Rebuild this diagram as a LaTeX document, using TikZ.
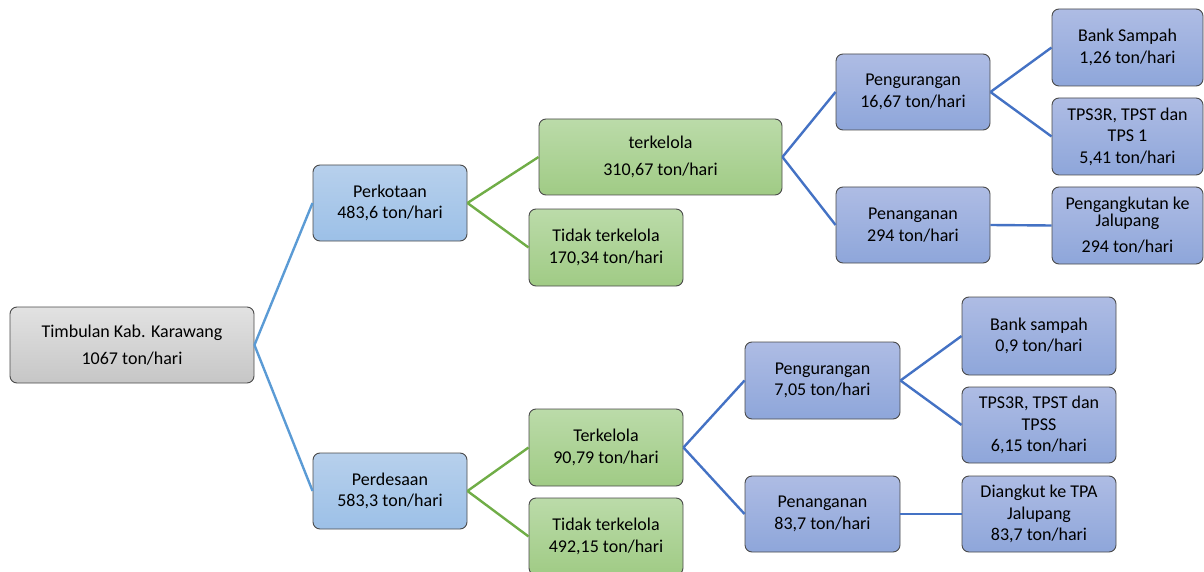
\documentclass[tikz,border=0pt]{standalone}
\usepackage{fontspec}
\setmainfont{Carlito}
\definecolor{bordc}{HTML}{4A4A4A}
\definecolor{grayT}{HTML}{E2E2E2}
\definecolor{grayB}{HTML}{C6C6C6}
\definecolor{lblueT}{HTML}{B7D0EC}
\definecolor{lblueB}{HTML}{9CC0E7}
\definecolor{greenT}{HTML}{BBDBA9}
\definecolor{greenB}{HTML}{A0CB85}
\definecolor{pblueT}{HTML}{AEBCE4}
\definecolor{pblueB}{HTML}{8EA6DA}
\definecolor{lineA}{HTML}{5B9BD5}
\definecolor{lineG}{HTML}{70AD47}
\definecolor{lineB}{HTML}{4472C4}
\begin{document}
\begin{tikzpicture}[x=1pt,y=-1pt,
  box/.style={draw=bordc, line width=0.9pt, rounded corners=7pt, align=center,
    font=\fontsize{18}{21.5}\selectfont, inner sep=0pt, minimum height=76pt, minimum width=154pt},
  graybox/.style={box, top color=grayT, bottom color=grayB},
  lbbox/.style={box, top color=lblueT, bottom color=lblueB},
  grbox/.style={box, top color=greenT, bottom color=greenB},
  pbbox/.style={box, top color=pblueT, bottom color=pblueB},
  linkA/.style={draw=lineA, line width=2.4pt},
  linkG/.style={draw=lineG, line width=2.4pt},
  linkB/.style={draw=lineB, line width=2.4pt}]
\useasboundingbox (0,0) rectangle (1204,572);

\node[graybox, minimum width=244pt] (root) at (132,345) {Timbulan Kab. Karawang\\[6pt]1067 ton/hari};
\node[lbbox] (kota) at (390,203) {Perkotaan\\483,6 ton/hari};
\node[lbbox] (desa) at (390,491) {Perdesaan\\583,3 ton/hari};

\node[grbox, minimum width=243pt] (tk1) at (660.5,157) {terkelola\\[6pt]310,67 ton/hari};
\node[grbox, minimum height=77pt] (ttk1) at (606,247.5) {Tidak terkelola\\170,34 ton/hari};
\node[grbox, minimum height=77pt] (tk2) at (606,447.5) {Terkelola\\90,79 ton/hari};
\node[grbox, minimum height=77pt] (ttk2) at (606,536.5) {Tidak terkelola\\492,15 ton/hari};

\node[pbbox] (pg1) at (913,92) {Pengurangan\\16,67 ton/hari};
\node[pbbox] (pn1) at (913,225) {Penanganan\\294 ton/hari};
\node[pbbox, minimum width=151pt, minimum height=77pt] (bs1) at (1127.5,47.5) {Bank Sampah\\1,26 ton/hari};
\node[pbbox, minimum width=151pt, minimum height=77pt] (tps1) at (1127.5,136.5) {TPS3R, TPST dan\\TPS 1\\5,41 ton/hari};
\node[pbbox, minimum width=151pt, minimum height=77pt] (ang1) at (1127.5,225.5) {Pengangkutan ke\\[-5pt]Jalupang\\[5pt]294 ton/hari};

\node[pbbox, minimum width=155pt, minimum height=77pt] (pg2) at (822.5,380.5) {Pengurangan\\7,05 ton/hari};
\node[pbbox, minimum width=155pt] (pn2) at (822.5,514) {Penanganan\\83,7 ton/hari};
\node[pbbox, minimum height=78pt] (bs2) at (1039,336) {Bank sampah\\0,9 ton/hari};
\node[pbbox] (tps2) at (1039,425) {TPS3R, TPST dan\\TPSS\\6,15 ton/hari};
\node[pbbox] (ang2) at (1039,514) {Diangkut ke TPA\\Jalupang\\83,7 ton/hari};

\draw[linkA] (root.east) -- (kota.west);
\draw[linkA] (root.east) -- (desa.west);
\draw[linkG] (kota.east) -- (tk1.west);
\draw[linkG] (kota.east) -- (ttk1.west);
\draw[linkG] (desa.east) -- (tk2.west);
\draw[linkG] (desa.east) -- (ttk2.west);
\draw[linkB] (tk1.east) -- (pg1.west);
\draw[linkB] (tk1.east) -- (pn1.west);
\draw[linkB] (pg1.east) -- (bs1.west);
\draw[linkB] (pg1.east) -- (tps1.west);
\draw[linkB] (pn1.east) -- (ang1.west);
\draw[linkB] (tk2.east) -- (pg2.west);
\draw[linkB] (tk2.east) -- (pn2.west);
\draw[linkB] (pg2.east) -- (bs2.west);
\draw[linkB] (pg2.east) -- (tps2.west);
\draw[linkB] (pn2.east) -- (ang2.west);
\end{tikzpicture}
\end{document}
